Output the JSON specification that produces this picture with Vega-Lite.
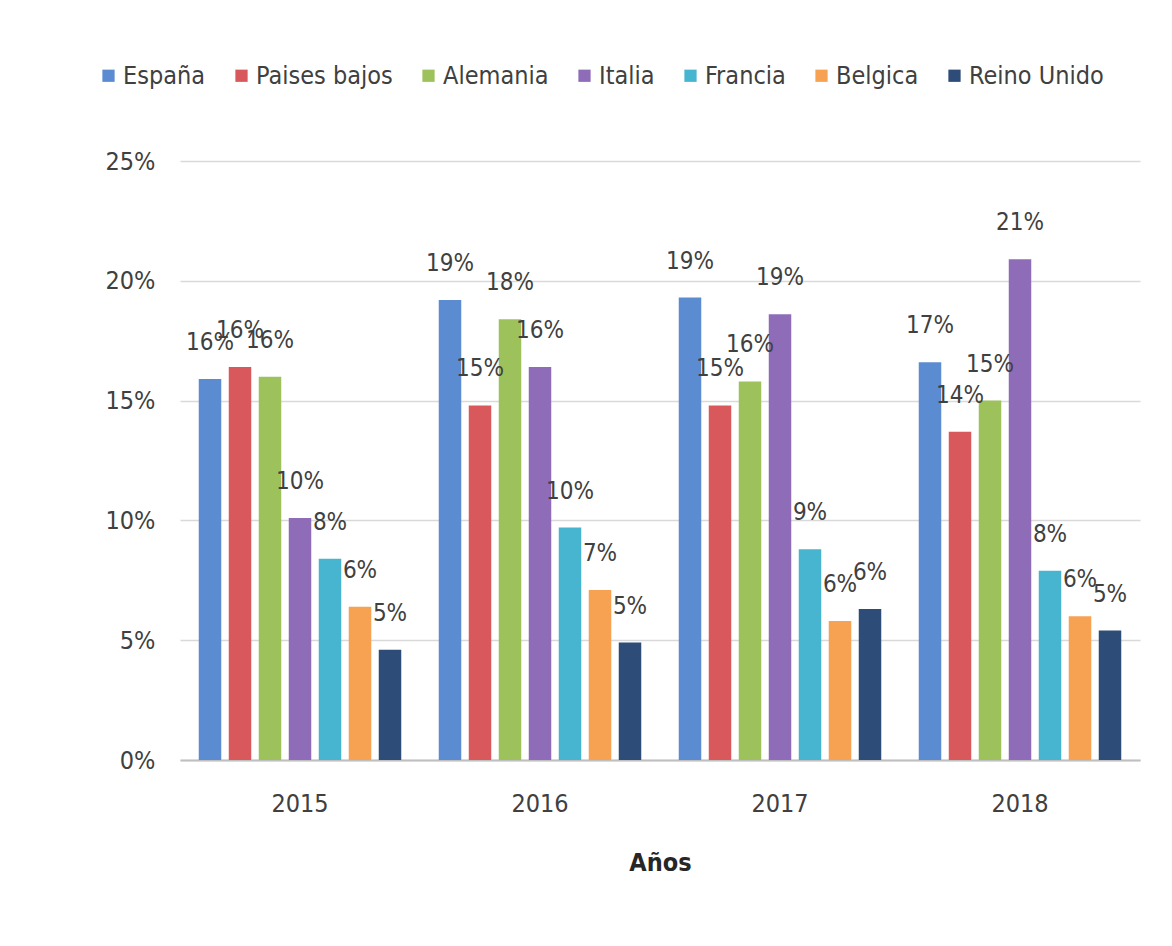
{
  "$schema": "https://vega.github.io/schema/vega-lite/v6.json",
  "width": 960,
  "height": 599,
  "autosize": "none",
  "padding": {"left": 180, "top": 161, "right": 32, "bottom": 186},
  "background": "white",
  "config": {
    "font": "DejaVu Sans Condensed, sans-serif",
    "view": {"stroke": null}
  },
  "data": {
    "values": [
      {"year": "2015", "country": "España", "value": 0.159},
      {"year": "2015", "country": "Paises bajos", "value": 0.164},
      {"year": "2015", "country": "Alemania", "value": 0.160},
      {"year": "2015", "country": "Italia", "value": 0.101},
      {"year": "2015", "country": "Francia", "value": 0.084},
      {"year": "2015", "country": "Belgica", "value": 0.064},
      {"year": "2015", "country": "Reino Unido", "value": 0.046},
      {"year": "2016", "country": "España", "value": 0.192},
      {"year": "2016", "country": "Paises bajos", "value": 0.148},
      {"year": "2016", "country": "Alemania", "value": 0.184},
      {"year": "2016", "country": "Italia", "value": 0.164},
      {"year": "2016", "country": "Francia", "value": 0.097},
      {"year": "2016", "country": "Belgica", "value": 0.071},
      {"year": "2016", "country": "Reino Unido", "value": 0.049},
      {"year": "2017", "country": "España", "value": 0.193},
      {"year": "2017", "country": "Paises bajos", "value": 0.148},
      {"year": "2017", "country": "Alemania", "value": 0.158},
      {"year": "2017", "country": "Italia", "value": 0.186},
      {"year": "2017", "country": "Francia", "value": 0.088},
      {"year": "2017", "country": "Belgica", "value": 0.058},
      {"year": "2017", "country": "Reino Unido", "value": 0.063},
      {"year": "2018", "country": "España", "value": 0.166},
      {"year": "2018", "country": "Paises bajos", "value": 0.137},
      {"year": "2018", "country": "Alemania", "value": 0.150},
      {"year": "2018", "country": "Italia", "value": 0.209},
      {"year": "2018", "country": "Francia", "value": 0.079},
      {"year": "2018", "country": "Belgica", "value": 0.060},
      {"year": "2018", "country": "Reino Unido", "value": 0.054}
    ]
  },
  "encoding": {
    "x": {
      "field": "year",
      "type": "nominal",
      "title": "Años",
      "scale": {"paddingInner": 0.125, "paddingOuter": 0.0625},
      "axis": {
        "labelAngle": 0,
        "ticks": false,
        "domainColor": "#bfbfbf",
        "domainWidth": 2,
        "labelFontSize": 25,
        "labelColor": "#404040",
        "labelPadding": 31,
        "titleFontSize": 25,
        "titleFontWeight": "bold",
        "titleColor": "#262626",
        "titlePadding": 34
      }
    },
    "xOffset": {
      "field": "country",
      "type": "nominal",
      "sort": ["España", "Paises bajos", "Alemania", "Italia", "Francia", "Belgica", "Reino Unido"],
      "scale": {"paddingInner": 0.25, "paddingOuter": 0.125}
    },
    "y": {
      "field": "value",
      "type": "quantitative",
      "title": null,
      "scale": {"domain": [0, 0.25]},
      "axis": {
        "values": [0, 0.05, 0.1, 0.15, 0.2, 0.25],
        "format": ".0%",
        "domain": false,
        "ticks": false,
        "gridColor": "#d9d9d9",
        "gridWidth": 1.5,
        "labelFontSize": 25,
        "labelColor": "#404040",
        "labelPadding": 25
      }
    }
  },
  "layer": [
    {
      "mark": {"type": "bar"},
      "encoding": {
        "color": {
          "field": "country",
          "type": "nominal",
          "sort": ["España", "Paises bajos", "Alemania", "Italia", "Francia", "Belgica", "Reino Unido"],
          "scale": {
            "domain": ["España", "Paises bajos", "Alemania", "Italia", "Francia", "Belgica", "Reino Unido"],
            "range": ["#5b8bd0", "#d9585b", "#9dc25c", "#8e6cb8", "#47b5cf", "#f7a152", "#2d4c77"]
          },
          "legend": {
            "orient": "none",
            "legendX": -84,
            "legendY": -98,
            "direction": "horizontal",
            "title": null,
            "symbolType": "square",
            "symbolSize": 150,
            "symbolStrokeWidth": 0,
            "labelFontSize": 25,
            "labelColor": "#404040",
            "labelOffset": 2,
            "columnPadding": 23,
            "labelLimit": 300
          }
        }
      }
    },
    {
      "mark": {"type": "text", "baseline": "bottom", "dy": -24, "fontSize": 24, "color": "#404040"},
      "encoding": {
        "text": {"field": "value", "type": "quantitative", "format": ".0%"}
      }
    }
  ]
}
